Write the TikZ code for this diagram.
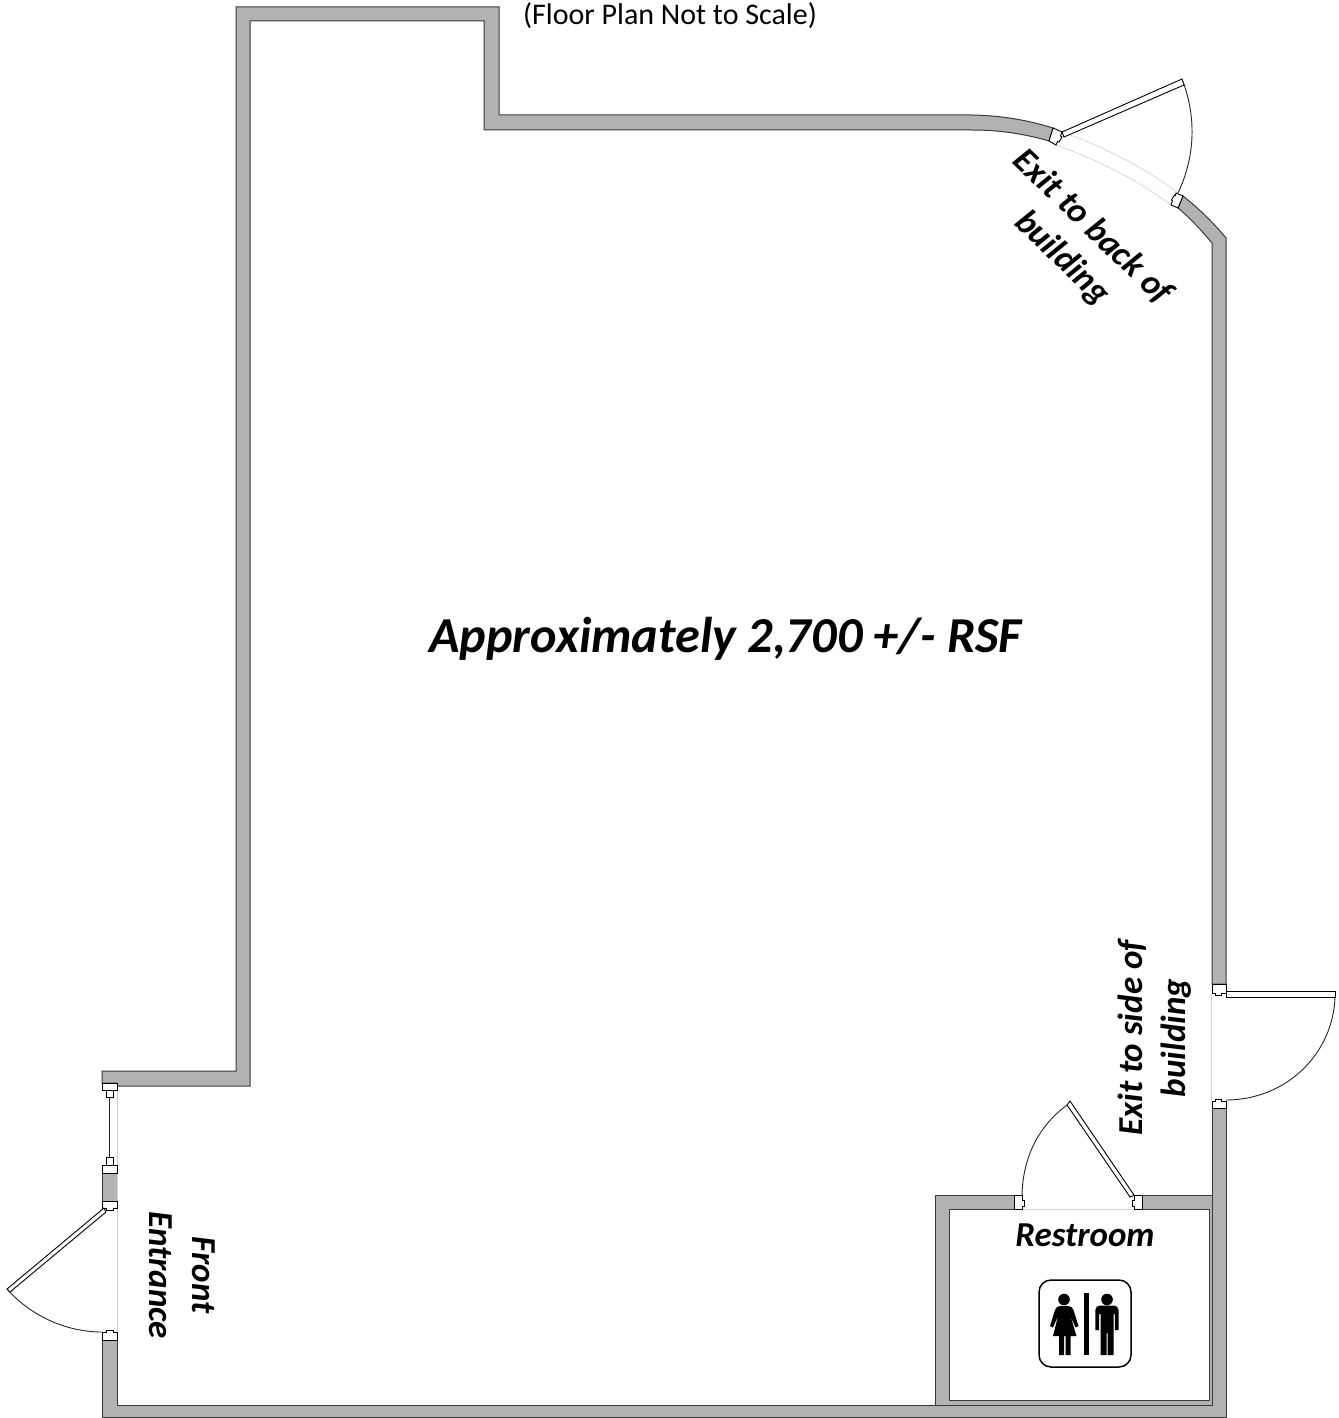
\documentclass[tikz,border=0pt]{standalone}
\usepackage{fontspec}
\setmainfont{Carlito}
\definecolor{wallgrey}{HTML}{B2B2B2}
\definecolor{walledge}{HTML}{3A3A3A}
\tikzset{
 wall/.style={fill=wallgrey,draw=walledge,line width=1pt,line join=miter},
 jamb/.style={fill=white,draw=black,line width=0.9pt},
 leaf/.style={fill=white,draw=black,line width=0.9pt},
 swing/.style={draw=black!85,line width=0.9pt},
 faint/.style={draw=black!18,line width=0.6pt},
 label/.style={font=\fontsize{35}{43}\bfseries\itshape\selectfont,align=center,inner sep=0pt,text=black},
}
\begin{document}
\begin{tikzpicture}[x=1pt,y=-1pt]
\useasboundingbox (0,0) rectangle (1338,1418);
% main wall, upper left run to back exit
\path[wall] (102,1083) -- (102,1071) -- (236,1071) -- (236,7) -- (499,7) -- (499,115) -- (972,115)
  .. controls (1000,115.5) and (1028,120) .. (1053,128) -- (1049,141)
  .. controls (1025,134) and (1000,130) .. (972,130) -- (484,130) -- (484,21) -- (250,21) -- (250,1086) -- (117,1086) -- (117,1083) -- cycle;
% right wall, back exit to side exit
\path[wall] (1183,196) .. controls (1198,208) and (1213,222) .. (1226,238) -- (1226,984) -- (1212,984) -- (1212,243)
  .. controls (1201,230) and (1190,218) .. (1178,208) -- cycle;
% lower U wall
\path[wall] (102,1340) -- (117,1340) -- (117,1405.5) -- (935,1405.5) -- (935,1195) -- (1014,1195) -- (1014,1209.5) -- (949,1209.5) -- (949,1400) -- (1209,1400)
 -- (1209,1209.5) -- (1142,1209.5) -- (1142,1195) -- (1212,1195) -- (1212,1108) -- (1226,1108) -- (1226,1417) -- (102,1417) -- cycle;
\draw[draw=walledge,line width=1pt] (949,1405.5) -- (1212,1405.5) -- (1212,1195);
\draw[draw=walledge,line width=1pt] (935,1405.5) -- (949,1405.5);
% front entrance pier
\path[wall] (102,1173) rectangle (117,1201);
% faint thresholds
\draw[faint] (117,1090) -- (117,1332);
\draw[faint] (1211,993) -- (1211,1101);
\draw[faint] (1023,1209) -- (1133,1209);
\draw[faint] (1062,132) .. controls (1105,147) and (1145,168) .. (1178,193);
\draw[faint] (1056,145) .. controls (1098,160) and (1138,180) .. (1171,205);
% back exit
\path[jamb] (1053,128) -- (1062,132) -- (1060.5,136) -- (1062,137) -- (1059,142) -- (1057.5,141.5) -- (1056,145) -- (1049,141) -- cycle;
\path[jamb] (1176,193) -- (1183,196) -- (1178,208) -- (1171,205) -- (1172.5,201) -- (1171.5,200) -- (1174.5,195) -- (1175.5,195.5) -- cycle;
\path[leaf] (1062,132) -- (1182,79) -- (1184,85) -- (1064,137) -- cycle;
\draw[swing] (1182,79) .. controls (1196,115) and (1196,155) .. (1178,193);
% front entrance
\path[jamb] (102,1083) rectangle (117,1090);
\path[jamb] (106,1090) rectangle (113,1097);
\draw[swing] (109.5,1097) -- (109.5,1157);
\path[jamb] (106,1157) rectangle (113,1165);
\path[jamb] (102,1165) rectangle (117,1173);
\path[jamb] (102,1201) -- (117,1201) -- (117,1208) -- (113,1208) -- (113,1210) -- (106,1210) -- (106,1208) -- (102,1208) -- cycle;
\path[leaf] (104,1208) -- (7,1289) -- (10,1292) -- (106,1212) -- cycle;
\draw[swing] (7,1289) .. controls (30,1315) and (65,1332) .. (102,1332);
\path[jamb] (102,1340) -- (117,1340) -- (117,1332) -- (113,1332) -- (113,1330) -- (106,1330) -- (106,1332) -- (102,1332) -- cycle;
% side exit
\path[jamb] (1212,984) -- (1226,984) -- (1226,993) -- (1221,993) -- (1221,995) -- (1215,995) -- (1215,993) -- (1212,993) -- cycle;
\path[jamb] (1212,1108) -- (1226,1108) -- (1226,1101) -- (1221,1101) -- (1221,1099) -- (1215,1099) -- (1215,1101) -- (1212,1101) -- cycle;
\path[leaf] (1226,991) rectangle (1335,997);
\draw[swing] (1335,997) .. controls (1333,1055) and (1285,1100) .. (1226,1100);
% restroom door
\path[jamb] (1014,1195) -- (1022,1195) -- (1022,1200) -- (1024,1200) -- (1024,1206) -- (1022,1206) -- (1022,1209.5) -- (1014,1209.5) -- cycle;
\path[jamb] (1142,1195) -- (1134,1195) -- (1134,1200) -- (1132,1200) -- (1132,1206) -- (1134,1206) -- (1134,1209.5) -- (1142,1209.5) -- cycle;
\path[leaf] (1070,1101) -- (1067,1105) -- (1130,1197) -- (1134,1195) -- cycle;
\draw[swing] (1067,1105) .. controls (1040,1125) and (1023,1155) .. (1022,1195);
% restroom sign
\node[draw=black,line width=1.5pt,rounded corners=12pt,minimum width=92pt,minimum height=87pt,inner sep=0pt] (sign) at (1085,1323.5) {};
\fill (1064,1299.5) circle (5.8);
\fill (1060,1306) -- (1068,1306) .. controls (1071,1306) and (1072.5,1307.5) .. (1073.5,1310) -- (1078.5,1326) -- (1075.5,1327.5) -- (1070.5,1316) -- (1076.5,1336) -- (1070.5,1336) -- (1070.5,1355) -- (1065.5,1355) -- (1065.5,1336) -- (1064,1336) -- (1064,1355) -- (1059,1355) -- (1059,1336) -- (1053,1336) -- (1058,1316) -- (1053,1327.5) -- (1050,1326) -- (1055,1310) .. controls (1056,1307.5) and (1057.5,1306) .. (1060,1306) -- cycle;
\fill (1083.5,1293) rectangle (1089,1355);
\fill (1107,1299.5) circle (5.8);
\fill (1100,1305.5) -- (1114,1305.5) .. controls (1116.5,1305.5) and (1118.5,1307.5) .. (1118.5,1310) -- (1118.5,1330) -- (1114.8,1330) -- (1114.8,1314) -- (1113.5,1314) -- (1113.5,1355) -- (1107.5,1355) -- (1107.5,1333) -- (1106.5,1333) -- (1106.5,1355) -- (1100.5,1355) -- (1100.5,1314) -- (1099,1314) -- (1099,1330) -- (1095.3,1330) -- (1095.3,1310) .. controls (1095.3,1307.5) and (1097.5,1305.5) .. (1100,1305.5) -- cycle;
% labels
\node[inner sep=0pt,font=\fontsize{30}{36}\selectfont] (scale) at (670,16) {(Floor Plan Not to Scale)};
\node[label,font=\fontsize{50.3}{60}\bfseries\itshape\selectfont] (area) at (725.5,639) {Approximately 2,700 +/- RSF};
\node[label,rotate=-44] (back) at (1077,243) {Exit to back of\\building};
\node[label,rotate=90] (side) at (1155,1038) {Exit to side of\\building};
\node[label,rotate=-90] (front) at (182,1275) {Front\\Entrance};
\node[label] (rest) at (1085,1235) {Restroom};
\end{tikzpicture}
\end{document}
